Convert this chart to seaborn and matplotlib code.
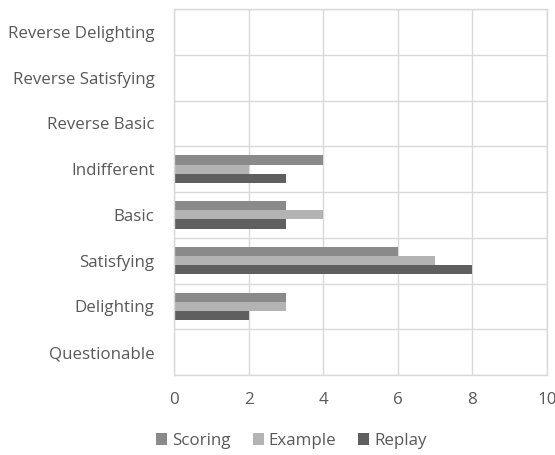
import matplotlib
matplotlib.use("Agg")
import matplotlib.pyplot as plt
import seaborn as sns
import pandas as pd
from matplotlib.ticker import FixedLocator

categories = ["Reverse Delighting", "Reverse Satisfying", "Reverse Basic",
              "Indifferent", "Basic", "Satisfying", "Delighting", "Questionable"]
series = ["Scoring", "Example", "Replay"]
scoring = [0, 0, 0, 4, 3, 6, 3, 0]
example = [0, 0, 0, 2, 4, 7, 3, 0]
replay = [0, 0, 0, 3, 3, 8, 2, 0]
x_ticks = [0, 2, 4, 6, 8, 10]

colors = ["#8a8a8a", "#b3b3b3", "#5f5f5f"]

rows = []
for name, vals in zip(series, [scoring, example, replay]):
    for cat, v in zip(categories, vals):
        rows.append({"category": cat, "series": name, "count": v})
df = pd.DataFrame(rows)

sns.set_theme(style="white")
plt.rcParams["font.family"] = ["Open Sans", "DejaVu Sans"]

fig = plt.figure(figsize=(5.55, 4.55), dpi=100)
ax = fig.add_axes([0.3135, 0.1758, 0.6721, 0.8044])

sns.barplot(data=df, y="category", x="count", hue="series",
            order=categories, hue_order=series, palette=colors,
            orient="h", width=0.6, ax=ax, legend=True,
            edgecolor="none", linewidth=0)

ax.set_xlim(0, 10)
ax.set_ylim(len(categories) - 0.5, -0.5)
ax.set_xticks(x_ticks)
ax.set_xticklabels([str(t) for t in x_ticks])
ax.yaxis.set_minor_locator(FixedLocator([i - 0.5 for i in range(len(categories) + 1)]))
ax.grid(axis="x", which="major", color="#d9d9d9", linewidth=1)
ax.grid(axis="y", which="minor", color="#d9d9d9", linewidth=1)
ax.set_axisbelow(True)
for s in ax.spines.values():
    s.set_color("#d9d9d9")
    s.set_linewidth(1)
ax.tick_params(axis="both", which="both", length=0, colors="#595959", labelsize=12.2)
ax.tick_params(axis="x", pad=12)
ax.tick_params(axis="y", pad=14)
ax.set_xlabel("")
ax.set_ylabel("")

handles, labels = ax.get_legend_handles_labels()
ax.legend_.remove()
leg = fig.legend(handles, labels, loc="center", bbox_to_anchor=(0.525, 1 - 441 / 455),
                 ncol=3, frameon=False, fontsize=12.2, handlelength=0.65,
                 handleheight=0.65, handletextpad=0.3, columnspacing=1.3)
for t in leg.get_texts():
    t.set_color("#595959")

fig.savefig("out.png", dpi=100)
